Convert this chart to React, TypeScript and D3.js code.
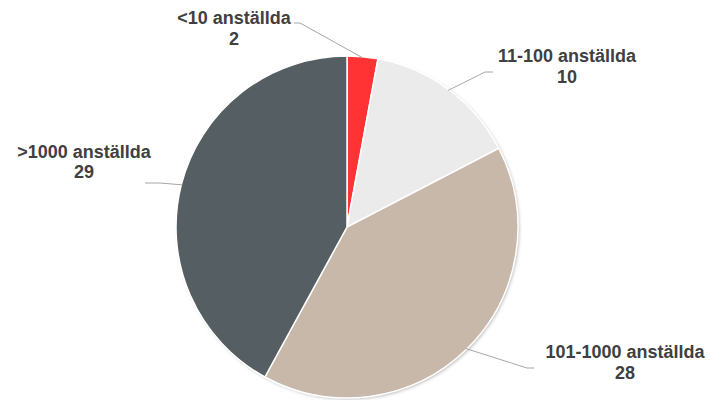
import React from "react";
import * as d3 from "d3";

const categories = ["<10 anställda", "11-100 anställda", "101-1000 anställda", ">1000 anställda"];
const values = [2, 10, 28, 29];
const colors = ["#FF3333", "#EBEBEB", "#C8B8AA", "#555F63"];

// label layout: text centre (x, first baseline y), leader elbow and end points
const labelLayout = [
  { tx: 234, ty: 24, elbow: [300, 23], end: [294, 23] },
  { tx: 567, ty: 62, elbow: [485, 72], end: [493, 72] },
  { tx: 625, ty: 358, elbow: [527, 368], end: [534, 368] },
  { tx: 84, ty: 157.5, elbow: [160, 183], end: [145, 183] },
];

const W = 710;
const H = 400;
const cx = 347;
const cy = 227;
const R = 171;

export default function App() {
  const pie = d3.pie<number>().sort(null).value((d) => d)(values);
  const arc = d3.arc<d3.PieArcDatum<number>>().innerRadius(0).outerRadius(R);
  const edge = d3.arc<d3.PieArcDatum<number>>().innerRadius(R - 1).outerRadius(R - 1);

  return (
    <svg
      width={W}
      height={H}
      style={{ position: "absolute", left: 0, top: 0, background: "#fff" }}
      fontFamily="'Liberation Sans', Arial, sans-serif"
    >
      <defs>
        <filter id="sh" x="-10%" y="-10%" width="120%" height="120%">
          <feDropShadow dx="1.5" dy="1.5" stdDeviation="1.5" floodColor="#000" floodOpacity="0.25" />
        </filter>
      </defs>
      <g transform={`translate(${cx},${cy})`}>
        <circle r={R} fill="#fff" filter="url(#sh)" />
        {pie.map((p, i) => (
          <path key={i} d={arc(p) || ""} fill={colors[i]} stroke="#fff" strokeWidth={1.5} />
        ))}
      </g>
      {pie.map((p, i) => {
        const [ex, ey] = edge.centroid(p);
        const L = labelLayout[i];
        return (
          <polyline
            key={"l" + i}
            points={`${cx + ex},${cy + ey} ${L.elbow[0]},${L.elbow[1]} ${L.end[0]},${L.end[1]}`}
            fill="none"
            stroke="#A6A6A6"
            strokeWidth={1}
          />
        );
      })}
      {categories.map((c, i) => {
        const L = labelLayout[i];
        return (
          <text key={"t" + i} x={L.tx} y={L.ty} textAnchor="middle" fontSize={18} fontWeight="bold" fill="#404040">
            <tspan x={L.tx}>{c}</tspan>
            <tspan x={L.tx} dy={20.5}>{values[i]}</tspan>
          </text>
        );
      })}
    </svg>
  );
}
